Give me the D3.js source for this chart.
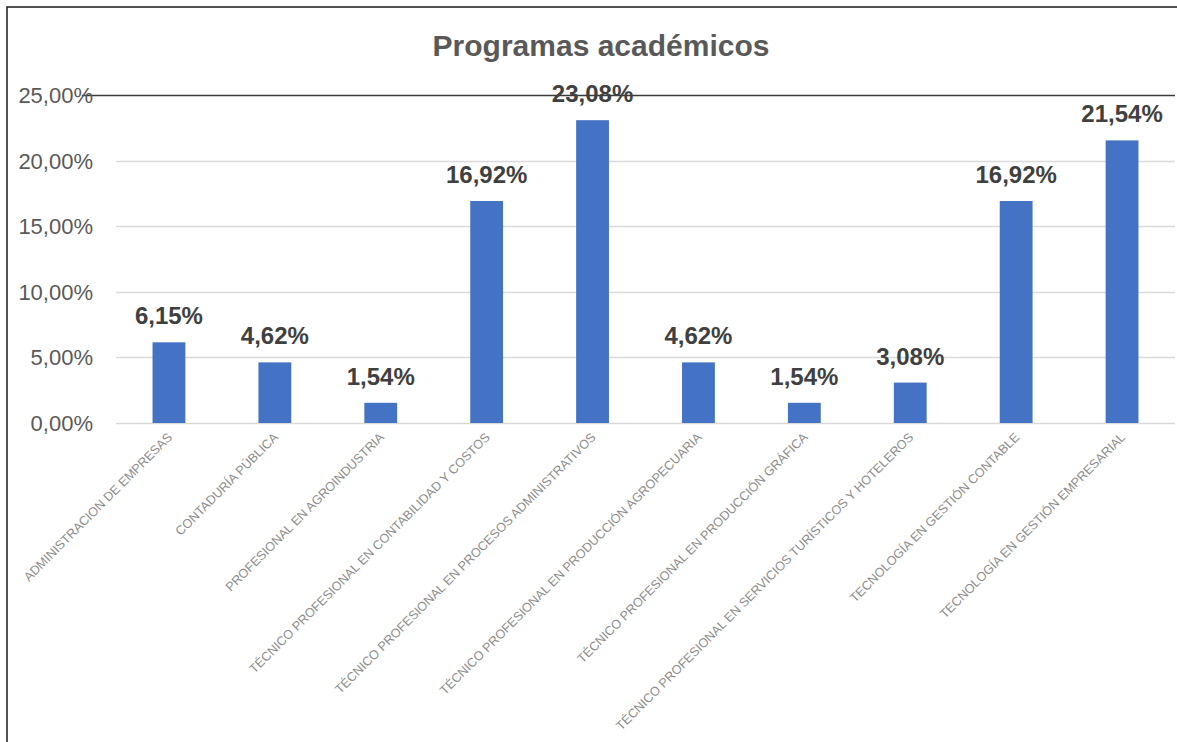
<!DOCTYPE html>
<html>
<head>
<meta charset="utf-8">
<script src="https://cdn.jsdelivr.net/npm/d3@7"></script>
<style>
  body { margin: 0; background: #fff; }
  svg { display: block; font-family: "Liberation Sans", Arial, sans-serif; }
</style>
</head>
<body>
<div id="chart"></div>
<script>
const programas = [
  "ADMINISTRACION DE EMPRESAS",
  "CONTADURÍA PÚBLICA",
  "PROFESIONAL EN AGROINDUSTRIA",
  "TÉCNICO PROFESIONAL EN CONTABILIDAD Y COSTOS",
  "TÉCNICO PROFESIONAL EN PROCESOS ADMINISTRATIVOS",
  "TÉCNICO PROFESIONAL EN PRODUCCIÓN AGROPECUARIA",
  "TÉCNICO PROFESIONAL EN PRODUCCIÓN GRÁFICA",
  "TÉCNICO PROFESIONAL EN SERVICIOS TURÍSTICOS Y HOTELEROS",
  "TECNOLOGÍA EN GESTIÓN CONTABLE",
  "TECNOLOGÍA EN GESTIÓN EMPRESARIAL"
]
const porcentajes = [6.15, 4.62, 1.54, 16.92, 23.08, 4.62, 1.54, 3.08, 16.92, 21.54]
const yTicks = [0, 5, 10, 15, 20, 25]

const width = 1177, height = 742
const margin = { top: 95, right: 2, bottom: 319, left: 116 }

const fmt = v => d3.format(".2f")(v).replace(".", ",") + "%"

const svg = d3.select("#chart").append("svg")
    .attr("width", width)
    .attr("height", height)

// marco
svg.append("path")
    .attr("d", `M7,${height} L7,7 L${width},7`)
    .attr("fill", "none")
    .attr("stroke", "#1a1a1a")
    .attr("stroke-width", 1.5)

const x = d3.scaleBand().domain(programas)
    .range([margin.left, width - margin.right])
    .paddingInner(0.69).paddingOuter(0.345)

const y = d3.scaleLinear().domain([0, 25]).range([height - margin.bottom, margin.top])

svg.append("text")
    .attr("x", 601).attr("y", 56)
    .attr("text-anchor", "middle")
    .attr("font-size", 30).attr("font-weight", "bold")
    .attr("fill", "#595959")
    .text("Programas académicos")

// lineas de cuadricula
svg.append("g").selectAll("line").data(yTicks).join("line")
    .attr("x1", d => d == 25 ? 82 : margin.left)
    .attr("x2", width - margin.right)
    .attr("y1", d => Math.round(y(d)) + 0.5)
    .attr("y2", d => Math.round(y(d)) + 0.5)
    .attr("stroke", d => d == 25 ? "#3a3a3a" : "#d9d9d9")
    .attr("stroke-width", d => d == 25 ? 1.5 : 1.3)

svg.append("g").selectAll("text").data(yTicks).join("text")
    .attr("x", 93)
    .attr("y", d => y(d) + 8)
    .attr("text-anchor", "end")
    .attr("font-size", 22)
    .attr("fill", "#595959")
    .text(d => fmt(d))

svg.append("g").selectAll("rect").data(porcentajes).join("rect")
    .attr("x", (d, i) => x(programas[i]))
    .attr("width", x.bandwidth())
    .attr("y", d => y(d))
    .attr("height", d => y(0) - y(d))
    .attr("fill", "#4472c4")

svg.append("g").selectAll("text").data(porcentajes).join("text")
    .attr("x", (d, i) => x(programas[i]) + x.bandwidth() / 2)
    .attr("y", d => y(d) - 18)
    .attr("text-anchor", "middle")
    .attr("font-size", 24).attr("font-weight", "bold")
    .attr("fill", "#404040")
    .text(d => fmt(d))

svg.append("g").selectAll("text").data(programas).join("text")
    .attr("transform", d => `translate(${x(d) + x.bandwidth() / 2 + 4},${y(0) + 15}) rotate(-45)`)
    .attr("text-anchor", "end")
    .attr("font-size", 12.6)
    .attr("fill", "#8c8c8c")
    .text(d => d)
</script>
</body>
</html>
